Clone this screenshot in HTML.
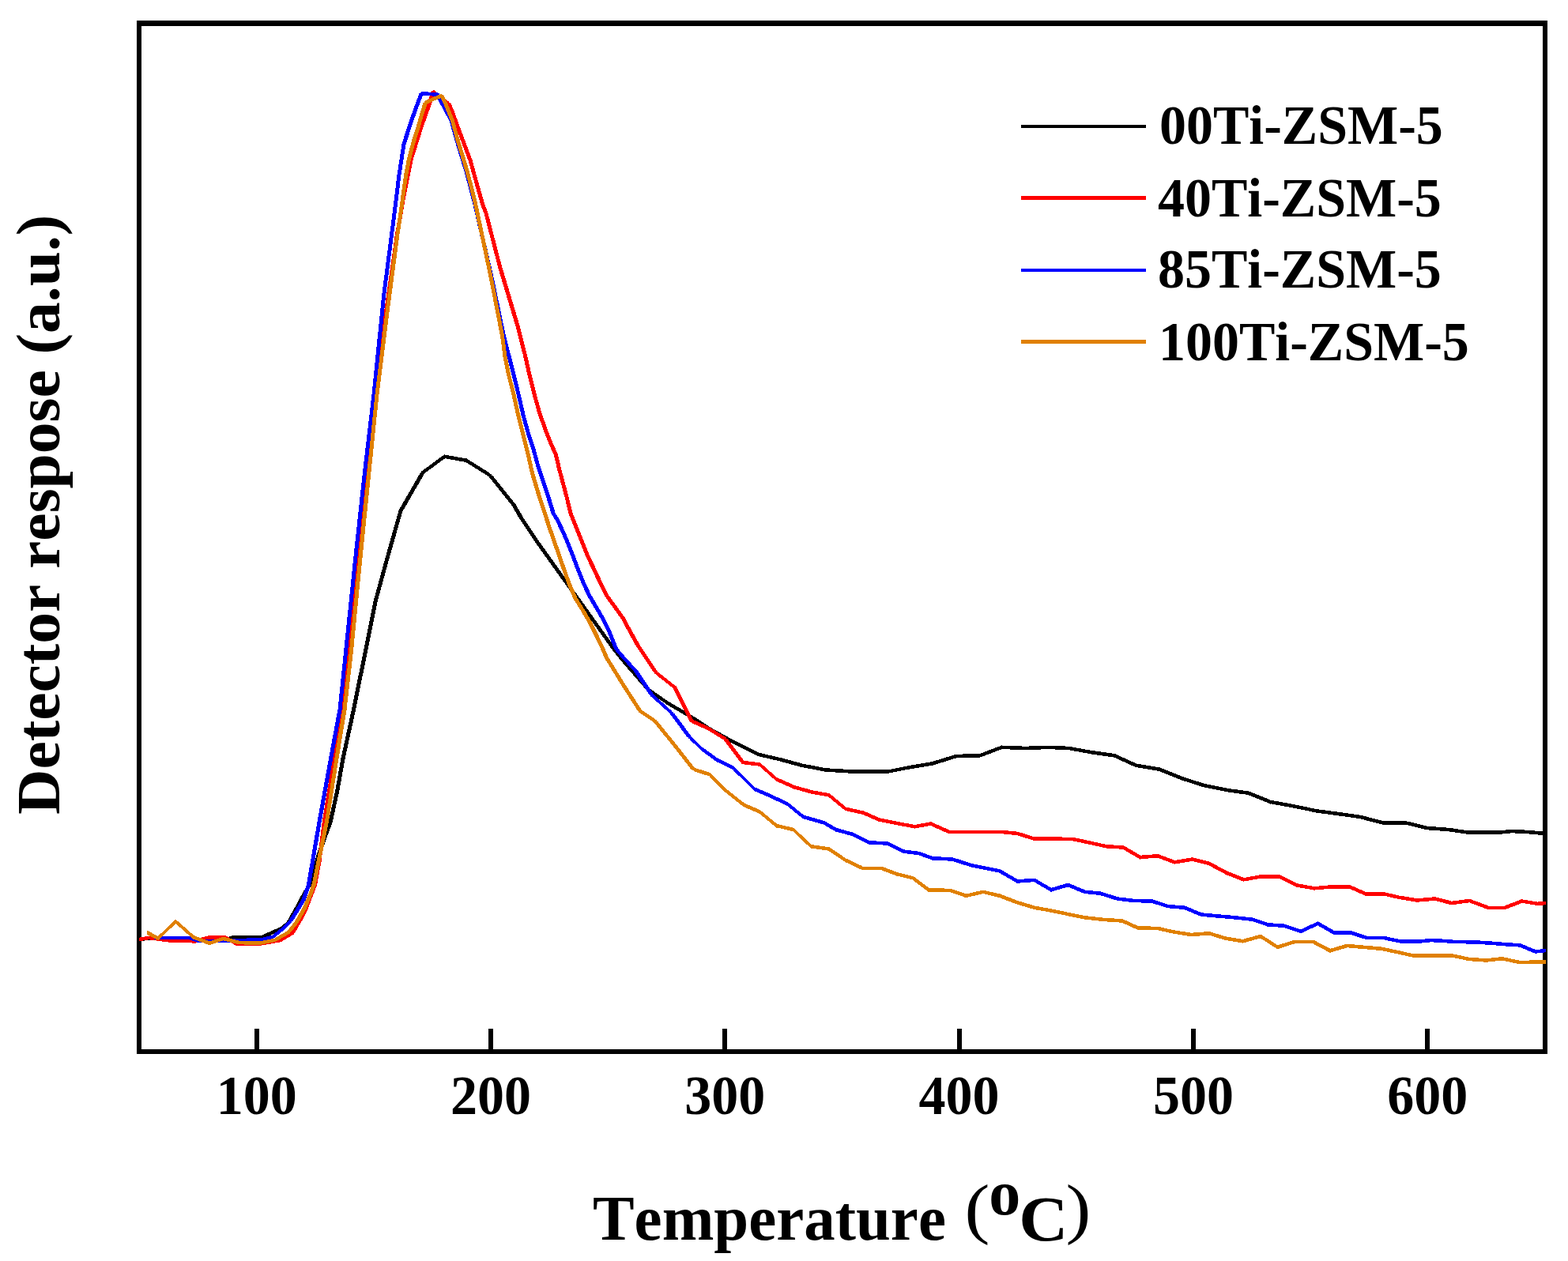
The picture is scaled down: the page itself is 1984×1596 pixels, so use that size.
<!DOCTYPE html>
<html lang="en"><head><meta charset="utf-8"><title>Temperature programmed desorption</title>
<style>
html,body{margin:0;padding:0;background:#fff;}
body{width:1984px;height:1596px;overflow:hidden;}
svg{display:block;}
text{font-family:"Liberation Serif","Times New Roman",serif;font-weight:bold;fill:#000;font-kerning:none;font-variant-ligatures:none;}
</style></head><body>
<svg width="1984" height="1596" viewBox="0 0 1984 1596">
<rect x="0" y="0" width="1984" height="1596" fill="#fff"/>
<g shape-rendering="crispEdges" fill="#000">
<rect x="173" y="26" width="6" height="1308"/>
<rect x="1952" y="26" width="6" height="1308"/>
<rect x="173" y="26" width="1785" height="7"/>
<rect x="173" y="1328" width="1785" height="6"/>
<rect x="322" y="1302" width="6" height="27"/>
<rect x="618" y="1302" width="6" height="27"/>
<rect x="914" y="1302" width="6" height="27"/>
<rect x="1211" y="1302" width="6" height="27"/>
<rect x="1507" y="1302" width="6" height="27"/>
<rect x="1803" y="1302" width="6" height="27"/>
</g>
<g stroke="none" shape-rendering="crispEdges">
<path fill="#000000" d="M176.5,1186.7L190.0,1185.0L190.0,1189.6L176.5,1191.3ZM190.0,1185.0L240.0,1185.2L240.0,1189.8L190.0,1189.6ZM240.0,1185.2L252.0,1188.2L252.0,1192.8L240.0,1189.8ZM252.0,1188.2L282.0,1187.7L282.0,1192.3L252.0,1192.8ZM282.0,1187.6L295.0,1184.1L295.0,1188.9L282.0,1192.4ZM295.0,1184.2L332.0,1183.7L332.0,1188.3L295.0,1188.8ZM332.0,1183.5L345.0,1177.5L345.0,1182.5L332.0,1188.5ZM345.0,1177.5L355.0,1173.1L355.0,1178.1L345.0,1182.5ZM355.0,1172.9L365.0,1165.3L365.0,1170.7L355.0,1178.3ZM362.1,1168.0L372.1,1150.0L377.9,1150.0L367.9,1168.0ZM372.2,1150.0L379.7,1136.0L385.3,1136.0L377.8,1150.0ZM379.6,1136.0L388.6,1120.0L394.4,1120.0L385.4,1136.0ZM388.8,1120.0L400.3,1083.0L405.7,1083.0L394.2,1120.0ZM400.3,1083.0L407.3,1062.0L412.7,1062.0L405.7,1083.0ZM407.3,1062.0L415.4,1040.6L420.8,1040.6L412.7,1062.0ZM415.5,1040.6L424.3,1000.0L429.5,1000.0L420.7,1040.6ZM424.3,1000.0L431.4,960.0L436.6,960.0L429.5,1000.0ZM431.4,960.0L444.9,898.0L450.1,898.0L436.6,960.0ZM444.9,898.0L459.9,824.0L465.1,824.0L450.1,898.0ZM459.9,824.0L472.4,761.5L477.6,761.5L465.1,824.0ZM472.4,761.5L487.4,706.5L492.6,706.5L477.6,761.5ZM487.4,706.5L504.4,646.5L509.6,646.5L492.6,706.5ZM504.1,646.5L532.1,598.0L537.9,598.0L509.9,646.5ZM535.0,595.3L562.5,575.1L562.5,580.5L535.0,600.7ZM562.5,575.5L590.0,580.5L590.0,585.1L562.5,580.1ZM590.0,580.2L620.0,598.9L620.0,604.1L590.0,585.4ZM623.0,601.5L653.0,639.0L647.0,639.0L617.0,601.5ZM652.9,639.0L662.9,656.3L657.1,656.3L647.1,639.0ZM662.9,656.3L682.2,685.2L676.4,685.2L657.1,656.3ZM682.2,685.2L703.7,715.3L697.9,715.3L676.4,685.2ZM703.7,715.3L723.4,742.8L717.6,742.8L697.9,715.3ZM723.4,742.8L731.5,754.1L725.7,754.1L717.6,742.8ZM731.5,754.1L747.6,776.7L741.8,776.7L725.7,754.1ZM747.6,776.7L762.8,798.0L757.0,798.0L741.8,776.7ZM762.8,798.0L778.6,820.0L772.8,820.0L757.0,798.0ZM778.7,820.0L790.5,835.0L784.5,835.0L772.7,820.0ZM790.5,835.0L823.0,872.5L817.0,872.5L784.5,835.0ZM820.0,869.9L845.0,887.4L845.0,892.6L820.0,875.1ZM845.0,887.4L875.0,904.9L875.0,910.1L845.0,892.6ZM875.0,904.9L900.0,921.2L900.0,926.4L875.0,910.1ZM900.0,921.2L925.0,934.9L925.0,940.1L900.0,926.4ZM925.0,935.0L960.0,952.5L960.0,957.5L925.0,940.0ZM960.0,952.7L987.5,959.0L987.5,963.6L960.0,957.3ZM987.5,958.9L1015.0,966.4L1015.0,971.2L987.5,963.7ZM1015.0,966.5L1045.0,972.2L1045.0,976.8L1015.0,971.1ZM1045.0,972.2L1075.0,974.0L1075.0,978.6L1045.0,976.8ZM1075.0,974.0L1125.0,974.0L1125.0,978.5L1075.0,978.5ZM1125.0,974.0L1150.0,969.0L1150.0,973.6L1125.0,978.6ZM1150.0,969.0L1180.0,964.0L1180.0,968.6L1150.0,973.6ZM1180.0,963.9L1210.0,954.6L1210.0,959.4L1180.0,968.7ZM1210.0,954.7L1240.0,954.0L1240.0,958.6L1210.0,959.3ZM1240.0,953.9L1267.5,943.4L1267.5,948.2L1240.0,958.7ZM1267.5,943.5L1297.5,944.7L1297.5,949.3L1267.5,948.1ZM1297.5,944.7L1326.3,943.5L1326.3,948.1L1297.5,949.3ZM1326.3,943.5L1352.5,944.7L1352.5,949.3L1326.3,948.1ZM1352.5,944.7L1380.0,949.7L1380.0,954.3L1352.5,949.3ZM1380.0,949.7L1410.0,954.0L1410.0,958.6L1380.0,954.3ZM1410.0,953.8L1437.5,966.3L1437.5,971.3L1410.0,958.8ZM1437.5,966.5L1467.5,971.5L1467.5,976.1L1437.5,971.1ZM1467.5,971.3L1495.0,982.5L1495.0,987.5L1467.5,976.3ZM1495.0,982.6L1522.5,991.4L1522.5,996.2L1495.0,987.4ZM1522.5,991.5L1552.5,997.7L1552.5,1002.3L1522.5,996.1ZM1552.5,997.7L1580.0,1001.5L1580.0,1006.1L1552.5,1002.3ZM1580.0,1001.3L1607.5,1012.5L1607.5,1017.5L1580.0,1006.3ZM1607.5,1012.7L1638.0,1018.2L1638.0,1022.8L1607.5,1017.3ZM1638.0,1018.2L1665.5,1024.0L1665.5,1028.6L1638.0,1022.8ZM1665.5,1024.0L1693.0,1027.7L1693.0,1032.3L1665.5,1028.6ZM1693.0,1027.7L1720.5,1031.5L1720.5,1036.1L1693.0,1032.3ZM1720.5,1031.4L1749.3,1038.9L1749.3,1043.7L1720.5,1036.2ZM1749.3,1039.0L1780.5,1039.5L1780.5,1044.1L1749.3,1043.6ZM1780.5,1039.5L1805.5,1045.7L1805.5,1050.3L1780.5,1044.1ZM1805.5,1045.7L1833.0,1047.7L1833.0,1052.3L1805.5,1050.3ZM1833.0,1047.7L1855.5,1051.0L1855.5,1055.6L1833.0,1052.3ZM1855.5,1051.0L1900.5,1051.0L1900.5,1055.5L1855.5,1055.5ZM1900.5,1051.0L1913.0,1049.7L1913.0,1054.3L1900.5,1055.6ZM1913.0,1049.7L1933.0,1050.7L1933.0,1055.3L1913.0,1054.3ZM1933.0,1050.7L1954.0,1052.7L1954.0,1057.3L1933.0,1055.3ZM363.2,1166.4L366.8,1166.4L366.8,1169.6L363.2,1169.6ZM533.2,596.4L536.8,596.4L536.8,599.6L533.2,599.6ZM618.2,599.9L621.8,599.9L621.8,603.1L618.2,603.1ZM818.2,870.9L821.8,870.9L821.8,874.1L818.2,874.1Z"/>
<path fill="#ff0000" d="M175.6,1186.7L188.8,1184.7L188.8,1189.3L175.6,1191.3ZM188.8,1184.7L215.0,1188.2L215.0,1192.8L188.8,1189.3ZM215.0,1188.2L247.0,1189.0L247.0,1193.6L215.0,1192.8ZM247.0,1188.9L264.0,1184.1L264.0,1188.9L247.0,1193.7ZM264.0,1184.2L285.0,1184.2L285.0,1188.8L264.0,1188.8ZM285.0,1183.9L300.0,1192.4L300.0,1197.6L285.0,1189.1ZM300.0,1192.8L327.0,1192.8L327.0,1197.2L300.0,1197.2ZM327.0,1192.7L355.0,1187.7L355.0,1192.3L327.0,1197.3ZM355.0,1187.4L370.0,1178.4L370.0,1183.6L355.0,1192.6ZM367.1,1181.0L377.1,1164.0L382.9,1164.0L372.9,1181.0ZM377.2,1164.0L384.2,1150.0L389.8,1150.0L382.8,1164.0ZM384.3,1150.0L395.8,1120.0L401.2,1120.0L389.7,1150.0ZM395.9,1120.0L401.4,1090.0L406.6,1090.0L401.1,1120.0ZM401.5,1090.0L407.7,1040.6L412.7,1040.6L406.5,1090.0ZM407.6,1040.6L420.7,960.0L425.9,960.0L412.8,1040.6ZM420.7,960.0L430.9,898.0L436.1,898.0L425.9,960.0ZM431.0,898.0L440.0,824.0L445.0,824.0L436.0,898.0ZM440.0,824.0L450.0,724.0L455.0,724.0L445.0,824.0ZM450.0,724.0L460.0,624.0L465.0,624.0L455.0,724.0ZM460.0,624.0L473.0,499.0L478.0,499.0L465.0,624.0ZM473.0,499.0L486.0,395.0L491.0,395.0L478.0,499.0ZM486.0,395.0L499.5,300.0L504.5,300.0L491.0,395.0ZM499.4,300.0L507.7,251.0L512.9,251.0L504.6,300.0ZM507.7,251.0L517.8,200.8L523.0,200.8L512.9,251.0ZM517.7,200.8L530.3,160.5L535.7,160.5L523.1,200.8ZM530.3,160.5L539.3,135.3L544.7,135.3L535.7,160.5ZM539.3,135.3L545.4,116.1L550.8,116.1L544.7,135.3ZM548.1,113.4L567.8,128.6L567.8,134.0L548.1,118.8ZM570.6,131.3L574.6,140.3L569.0,140.3L565.0,131.3ZM574.5,140.3L579.6,154.4L574.2,154.4L569.1,140.3ZM579.6,154.4L585.6,170.6L580.2,170.6L574.2,154.4ZM585.6,170.6L591.7,186.7L586.3,186.7L580.2,170.6ZM591.7,186.7L597.7,202.8L592.3,202.8L586.3,186.7ZM597.6,202.8L602.6,221.0L597.4,221.0L592.4,202.8ZM602.6,221.0L607.7,239.1L602.5,239.1L597.4,221.0ZM607.7,239.1L613.7,260.0L608.5,260.0L602.5,239.1ZM613.8,260.0L617.7,270.0L612.3,270.0L608.4,260.0ZM617.6,270.0L635.1,337.5L629.9,337.5L612.4,270.0ZM635.2,337.5L657.7,412.5L652.3,412.5L629.8,337.5ZM657.6,412.5L667.1,450.0L661.9,450.0L652.4,412.5ZM667.1,450.0L672.7,475.1L667.5,475.1L661.9,450.0ZM672.7,475.1L679.0,500.1L673.8,500.1L667.5,475.1ZM679.0,500.1L685.3,522.7L680.1,522.7L673.8,500.1ZM685.4,522.7L692.9,544.0L687.5,544.0L680.0,522.7ZM692.9,544.0L700.4,562.8L695.0,562.8L687.5,544.0ZM700.5,562.8L706.1,575.3L700.5,575.3L694.9,562.8ZM705.9,575.3L710.3,594.1L705.1,594.1L700.7,575.3ZM710.3,594.1L715.3,612.9L710.1,612.9L705.1,594.1ZM715.3,612.9L720.3,631.7L715.1,631.7L710.1,612.9ZM720.3,631.7L724.7,650.0L719.5,650.0L715.1,631.7ZM724.8,650.0L730.4,663.9L725.0,663.9L719.4,650.0ZM730.4,663.9L737.9,682.7L732.5,682.7L725.0,663.9ZM737.9,682.7L745.4,701.5L740.0,701.5L732.5,682.7ZM745.5,701.5L754.3,720.3L748.7,720.3L739.9,701.5ZM754.3,720.3L763.1,739.1L757.5,739.1L748.7,720.3ZM763.1,739.1L770.6,754.1L765.0,754.1L757.5,739.1ZM770.8,754.1L780.8,767.9L774.8,767.9L764.8,754.1ZM780.8,767.9L790.8,781.7L784.8,781.7L774.8,767.9ZM790.6,781.7L799.4,798.0L793.8,798.0L785.0,781.7ZM799.5,798.0L810.4,817.5L804.6,817.5L793.7,798.0ZM810.4,817.5L832.9,851.3L827.1,851.3L804.6,817.5ZM830.0,848.6L853.8,867.3L853.8,872.7L830.0,854.0ZM856.6,870.0L877.8,912.5L872.2,912.5L851.0,870.0ZM875.0,910.0L895.0,918.8L895.0,923.8L875.0,915.0ZM895.0,918.7L917.5,932.4L917.5,937.6L895.0,923.9ZM920.5,935.0L943.0,965.0L937.0,965.0L914.5,935.0ZM940.0,962.7L961.3,965.2L961.3,969.8L940.0,967.3ZM961.3,964.8L982.5,983.6L982.5,989.0L961.3,970.2ZM982.5,983.8L1005.0,993.8L1005.0,998.8L982.5,988.8ZM1005.0,993.9L1027.5,1000.1L1027.5,1004.9L1005.0,998.7ZM1027.5,1000.2L1048.8,1004.0L1048.8,1008.6L1027.5,1004.8ZM1048.8,1003.6L1070.0,1021.1L1070.0,1026.5L1048.8,1009.0ZM1070.0,1021.5L1092.5,1026.5L1092.5,1031.1L1070.0,1026.1ZM1092.5,1026.3L1112.5,1035.0L1112.5,1040.0L1092.5,1031.3ZM1112.5,1035.2L1135.0,1039.7L1135.0,1044.3L1112.5,1039.8ZM1135.0,1039.7L1157.5,1044.0L1157.5,1048.6L1135.0,1044.3ZM1157.5,1044.0L1177.5,1040.2L1177.5,1044.8L1157.5,1048.6ZM1177.5,1040.0L1201.3,1050.5L1201.3,1055.5L1177.5,1045.0ZM1201.3,1050.8L1267.5,1050.8L1267.5,1055.2L1201.3,1055.2ZM1267.5,1050.7L1287.5,1052.7L1287.5,1057.3L1267.5,1055.3ZM1287.5,1052.6L1307.5,1058.9L1307.5,1063.7L1287.5,1057.4ZM1307.5,1059.0L1357.5,1059.7L1357.5,1064.3L1307.5,1063.6ZM1357.5,1059.7L1377.5,1064.0L1377.5,1068.6L1357.5,1064.3ZM1377.5,1064.0L1400.0,1069.0L1400.0,1073.6L1377.5,1068.6ZM1400.0,1069.0L1421.3,1070.2L1421.3,1074.8L1400.0,1073.6ZM1421.3,1069.9L1442.5,1082.4L1442.5,1087.6L1421.3,1075.1ZM1442.5,1082.7L1465.0,1081.0L1465.0,1085.6L1442.5,1087.3ZM1465.0,1080.9L1486.3,1088.9L1486.3,1093.7L1465.0,1085.7ZM1486.3,1089.0L1508.8,1085.2L1508.8,1089.8L1486.3,1093.6ZM1508.8,1085.1L1530.0,1090.6L1530.0,1095.4L1508.8,1089.9ZM1530.0,1090.4L1552.5,1102.4L1552.5,1107.6L1530.0,1095.6ZM1552.5,1102.5L1573.8,1110.8L1573.8,1115.8L1552.5,1107.5ZM1573.8,1111.0L1595.0,1107.2L1595.0,1111.8L1573.8,1115.6ZM1595.0,1107.2L1618.8,1107.2L1618.8,1111.8L1595.0,1111.8ZM1618.8,1107.0L1641.0,1118.0L1641.0,1123.0L1618.8,1112.0ZM1641.0,1118.2L1663.0,1122.0L1663.0,1126.6L1641.0,1122.8ZM1663.0,1122.0L1683.0,1120.2L1683.0,1124.8L1663.0,1126.6ZM1683.0,1120.2L1708.0,1120.2L1708.0,1124.8L1683.0,1124.8ZM1708.0,1120.0L1728.0,1128.8L1728.0,1133.8L1708.0,1125.0ZM1728.0,1129.0L1750.5,1129.0L1750.5,1133.5L1728.0,1133.5ZM1750.5,1129.0L1770.5,1133.5L1770.5,1138.1L1750.5,1133.6ZM1770.5,1133.5L1793.0,1137.2L1793.0,1141.8L1770.5,1138.1ZM1793.0,1137.2L1815.5,1135.2L1815.5,1139.8L1793.0,1141.8ZM1815.5,1135.1L1836.8,1140.6L1836.8,1145.4L1815.5,1139.9ZM1836.8,1140.7L1859.3,1137.7L1859.3,1142.3L1836.8,1145.3ZM1859.3,1137.6L1883.0,1146.4L1883.0,1151.2L1859.3,1142.4ZM1883.0,1146.5L1904.3,1146.5L1904.3,1151.0L1883.0,1151.0ZM1904.3,1146.3L1925.5,1138.0L1925.5,1143.0L1904.3,1151.3ZM1925.5,1138.2L1945.5,1141.5L1945.5,1146.1L1925.5,1142.8ZM1945.5,1141.5L1955.5,1140.7L1955.5,1145.3L1945.5,1146.1ZM368.2,1179.4L371.8,1179.4L371.8,1182.6L368.2,1182.6ZM546.4,114.5L549.9,114.5L549.9,117.7L546.4,117.7ZM566.0,129.7L569.5,129.7L569.5,132.9L566.0,132.9ZM828.2,849.7L831.8,849.7L831.8,852.9L828.2,852.9ZM852.0,868.4L855.5,868.4L855.5,871.6L852.0,871.6ZM873.2,910.9L876.8,910.9L876.8,914.1L873.2,914.1ZM915.8,933.4L919.2,933.4L919.2,936.6L915.8,936.6ZM938.2,963.4L941.8,963.4L941.8,966.6L938.2,966.6Z"/>
<path fill="#0000ff" d="M195.0,1184.8L240.0,1184.8L240.0,1189.2L195.0,1189.2ZM240.0,1184.6L252.0,1188.6L252.0,1193.4L240.0,1189.4ZM252.0,1188.8L282.0,1188.8L282.0,1193.2L252.0,1193.2ZM282.0,1188.7L307.0,1187.7L307.0,1192.3L282.0,1193.3ZM307.0,1187.7L332.0,1186.7L332.0,1191.3L307.0,1192.3ZM332.0,1186.7L345.0,1183.7L345.0,1188.3L332.0,1191.3ZM345.0,1183.3L357.5,1173.3L357.5,1178.7L345.0,1188.7ZM357.5,1173.3L367.5,1163.3L367.5,1168.7L357.5,1178.7ZM364.6,1166.0L373.1,1152.5L378.9,1152.5L370.4,1166.0ZM373.1,1152.5L381.1,1139.0L386.9,1139.0L378.9,1152.5ZM381.3,1139.0L387.7,1120.0L393.1,1120.0L386.7,1139.0ZM387.8,1120.0L401.4,1040.6L406.6,1040.6L393.0,1120.0ZM401.4,1040.6L416.0,960.0L421.2,960.0L406.6,1040.6ZM416.0,960.0L427.4,898.0L432.6,898.0L421.2,960.0ZM427.5,898.0L437.7,799.0L442.7,799.0L432.5,898.0ZM437.7,799.0L448.0,699.0L453.0,699.0L442.7,799.0ZM448.0,699.0L458.8,599.0L463.8,599.0L453.0,699.0ZM458.8,599.0L470.5,499.0L475.5,499.0L463.8,599.0ZM470.5,499.0L483.0,375.0L488.0,375.0L475.5,499.0ZM483.0,375.0L497.8,260.0L502.8,260.0L488.0,375.0ZM497.8,260.0L502.5,221.0L507.5,221.0L502.8,260.0ZM502.5,221.0L508.5,182.7L513.5,182.7L507.5,221.0ZM508.3,182.7L515.3,160.5L520.7,160.5L513.7,182.7ZM515.3,160.5L522.3,140.3L527.7,140.3L520.7,160.5ZM522.3,140.3L528.3,124.2L533.7,124.2L527.7,140.3ZM528.3,124.2L530.6,118.1L536.0,118.1L533.7,124.2ZM533.3,115.8L553.7,117.4L553.7,122.0L533.3,120.4ZM556.5,119.7L561.3,129.2L555.7,129.2L550.9,119.7ZM561.3,129.2L573.8,152.4L568.2,152.4L555.7,129.2ZM573.6,152.4L580.1,175.6L574.9,175.6L568.4,152.4ZM580.2,175.6L586.3,195.8L580.9,195.8L574.8,175.6ZM586.3,195.8L592.4,215.9L587.0,215.9L580.9,195.8ZM592.3,215.9L598.5,239.1L593.3,239.1L587.1,215.9ZM598.5,239.1L603.9,260.0L598.7,260.0L593.3,239.1ZM603.9,260.0L624.4,350.0L619.2,350.0L598.7,260.0ZM624.4,350.0L639.9,425.0L634.7,425.0L619.2,350.0ZM639.9,425.0L646.4,450.0L641.2,450.0L634.7,425.0ZM646.4,450.0L652.7,475.1L647.5,475.1L641.2,450.0ZM652.7,475.1L658.9,500.1L653.7,500.1L647.5,475.1ZM658.9,500.1L664.6,525.2L659.4,525.2L653.7,500.1ZM664.6,525.2L671.5,550.3L666.3,550.3L659.4,525.2ZM671.6,550.3L677.8,569.0L672.4,569.0L666.2,550.3ZM677.7,569.0L682.8,587.8L677.6,587.8L672.5,569.0ZM682.9,587.8L689.1,606.6L683.7,606.6L677.5,587.8ZM689.1,606.6L695.4,625.4L690.0,625.4L683.7,606.6ZM695.4,625.4L702.9,650.0L697.5,650.0L690.0,625.4ZM703.1,650.0L708.0,657.6L702.2,657.6L697.3,650.0ZM707.9,657.6L716.7,676.4L711.1,676.4L702.3,657.6ZM716.6,676.4L725.4,697.7L720.0,697.7L711.2,676.4ZM725.4,697.7L732.9,717.8L727.5,717.8L720.0,697.7ZM732.9,717.8L740.4,736.6L735.0,736.6L727.5,717.8ZM740.5,736.6L748.0,752.9L742.4,752.9L734.9,736.6ZM748.1,752.9L756.9,767.9L751.1,767.9L742.3,752.9ZM756.9,767.9L765.7,783.0L759.9,783.0L751.1,767.9ZM765.6,783.0L773.1,798.0L767.5,798.0L760.0,783.0ZM773.0,798.0L781.8,820.0L776.4,820.0L767.6,798.0ZM782.0,820.0L785.4,825.0L779.6,825.0L776.2,820.0ZM785.5,825.0L808.0,850.0L802.0,850.0L779.5,825.0ZM807.9,850.0L827.9,880.0L822.1,880.0L802.1,850.0ZM825.0,877.3L850.0,899.8L850.0,905.2L825.0,882.7ZM853.0,902.5L875.5,933.0L869.5,933.0L847.0,902.5ZM872.5,930.3L887.5,944.8L887.5,950.2L872.5,935.7ZM887.5,944.8L907.5,959.3L907.5,964.7L887.5,950.2ZM907.5,959.5L927.5,969.5L927.5,974.5L907.5,964.5ZM927.5,969.3L955.0,996.1L955.0,1001.5L927.5,974.7ZM955.0,996.3L975.0,1005.0L975.0,1010.0L955.0,1001.3ZM975.0,1005.0L996.3,1015.0L996.3,1020.0L975.0,1010.0ZM996.3,1014.8L1016.3,1031.1L1016.3,1036.5L996.3,1020.2ZM1016.3,1031.4L1042.5,1038.9L1042.5,1043.7L1016.3,1036.2ZM1042.5,1038.7L1057.5,1047.4L1057.5,1052.6L1042.5,1043.9ZM1057.5,1047.6L1080.0,1053.9L1080.0,1058.7L1057.5,1052.4ZM1080.0,1053.8L1100.0,1063.8L1100.0,1068.8L1080.0,1058.8ZM1100.0,1064.0L1122.5,1065.2L1122.5,1069.8L1100.0,1068.6ZM1122.5,1065.0L1142.5,1075.0L1142.5,1080.0L1122.5,1070.0ZM1142.5,1075.2L1162.5,1077.7L1162.5,1082.3L1142.5,1079.8ZM1162.5,1077.6L1180.0,1083.9L1180.0,1088.7L1162.5,1082.4ZM1180.0,1084.0L1205.0,1085.2L1205.0,1089.8L1180.0,1088.6ZM1205.0,1085.1L1230.0,1093.1L1230.0,1097.9L1205.0,1089.9ZM1230.0,1093.2L1265.0,1100.2L1265.0,1104.8L1230.0,1097.8ZM1265.0,1099.9L1287.5,1112.9L1287.5,1118.1L1265.0,1105.1ZM1287.5,1113.2L1308.8,1111.5L1308.8,1116.1L1287.5,1117.8ZM1308.8,1111.2L1330.0,1123.7L1330.0,1128.9L1308.8,1116.4ZM1330.0,1123.9L1351.3,1117.6L1351.3,1122.4L1330.0,1128.7ZM1351.3,1117.5L1372.5,1126.3L1372.5,1131.3L1351.3,1122.5ZM1372.5,1126.5L1392.5,1128.5L1392.5,1133.1L1372.5,1131.1ZM1392.5,1128.4L1413.8,1135.1L1413.8,1139.9L1392.5,1133.2ZM1413.8,1135.2L1435.0,1137.7L1435.0,1142.3L1413.8,1139.8ZM1435.0,1137.7L1457.5,1138.2L1457.5,1142.8L1435.0,1142.3ZM1457.5,1138.1L1477.5,1144.6L1477.5,1149.4L1457.5,1142.9ZM1477.5,1144.7L1498.8,1146.5L1498.8,1151.1L1477.5,1149.3ZM1498.8,1146.3L1520.0,1155.0L1520.0,1160.0L1498.8,1151.3ZM1520.0,1155.2L1541.3,1157.2L1541.3,1161.8L1520.0,1159.8ZM1541.3,1157.2L1562.5,1159.0L1562.5,1163.6L1541.3,1161.8ZM1562.5,1159.0L1585.0,1161.5L1585.0,1166.1L1562.5,1163.6ZM1585.0,1161.4L1604.0,1167.9L1604.0,1172.7L1585.0,1166.2ZM1604.0,1168.0L1625.0,1169.5L1625.0,1174.1L1604.0,1172.6ZM1625.0,1169.4L1646.0,1176.4L1646.0,1181.2L1625.0,1174.2ZM1646.0,1176.3L1667.5,1166.3L1667.5,1171.3L1646.0,1181.3ZM1667.5,1166.2L1688.0,1177.9L1688.0,1183.1L1667.5,1171.4ZM1688.0,1178.2L1709.3,1178.2L1709.3,1182.8L1688.0,1182.8ZM1709.3,1178.1L1729.3,1184.6L1729.3,1189.4L1709.3,1182.9ZM1729.3,1184.8L1750.5,1184.8L1750.5,1189.2L1729.3,1189.2ZM1750.5,1184.7L1771.8,1189.0L1771.8,1193.6L1750.5,1189.3ZM1771.8,1189.0L1798.0,1189.0L1798.0,1193.5L1771.8,1193.5ZM1798.0,1189.0L1810.5,1187.7L1810.5,1192.3L1798.0,1193.6ZM1810.5,1187.7L1825.5,1188.5L1825.5,1193.1L1810.5,1192.3ZM1825.5,1188.5L1838.0,1189.5L1838.0,1194.1L1825.5,1193.1ZM1838.0,1189.5L1868.0,1190.2L1868.0,1194.8L1838.0,1194.1ZM1868.0,1190.2L1888.0,1191.5L1888.0,1196.1L1868.0,1194.8ZM1888.0,1191.5L1908.0,1193.2L1908.0,1197.8L1888.0,1196.1ZM1908.0,1193.2L1923.0,1194.0L1923.0,1198.6L1908.0,1197.8ZM1923.0,1193.8L1943.0,1202.0L1943.0,1207.0L1923.0,1198.8ZM1943.0,1202.2L1955.5,1200.7L1955.5,1205.3L1943.0,1206.8ZM365.8,1164.4L369.2,1164.4L369.2,1167.6L365.8,1167.6ZM531.5,116.5L535.0,116.5L535.0,119.7L531.5,119.7ZM552.0,118.1L555.5,118.1L555.5,121.3L552.0,121.3ZM823.2,878.4L826.8,878.4L826.8,881.6L823.2,881.6ZM848.2,900.9L851.8,900.9L851.8,904.1L848.2,904.1ZM870.8,931.4L874.2,931.4L874.2,934.6L870.8,934.6Z"/>
<path fill="#e08000" d="M185.6,1177.4L200.0,1184.9L200.0,1190.1L185.6,1182.6ZM200.0,1184.8L222.3,1163.6L222.3,1169.0L200.0,1190.2ZM222.3,1163.6L245.0,1183.6L245.0,1189.0L222.3,1169.0ZM245.0,1183.9L265.0,1191.4L265.0,1196.2L245.0,1188.7ZM265.0,1191.4L282.5,1185.6L282.5,1190.4L265.0,1196.2ZM282.5,1185.7L302.5,1190.7L302.5,1195.3L282.5,1190.3ZM302.5,1190.7L327.5,1191.5L327.5,1196.1L302.5,1195.3ZM327.5,1191.5L347.5,1187.7L347.5,1192.3L327.5,1196.1ZM347.5,1187.4L365.0,1177.4L365.0,1182.6L347.5,1192.6ZM362.0,1180.0L372.0,1167.5L378.0,1167.5L368.0,1180.0ZM372.1,1167.5L382.1,1150.0L387.9,1150.0L377.9,1167.5ZM382.2,1150.0L389.7,1132.5L395.3,1132.5L387.8,1150.0ZM389.8,1132.5L394.3,1120.0L399.7,1120.0L395.2,1132.5ZM394.4,1120.0L410.7,1040.6L415.9,1040.6L399.6,1120.0ZM410.8,1040.6L423.4,960.0L428.4,960.0L415.8,1040.6ZM423.3,960.0L433.4,898.0L438.6,898.0L428.5,960.0ZM433.5,898.0L442.0,824.0L447.0,824.0L438.5,898.0ZM442.0,824.0L451.7,724.0L456.7,724.0L447.0,824.0ZM451.7,724.0L461.8,624.0L466.8,624.0L456.7,724.0ZM461.8,624.0L474.5,499.0L479.5,499.0L466.8,624.0ZM474.5,499.0L487.5,395.0L492.5,395.0L479.5,499.0ZM487.5,395.0L500.0,300.0L505.0,300.0L492.5,395.0ZM500.0,300.0L505.8,260.0L510.8,260.0L505.0,300.0ZM505.8,260.0L508.3,241.1L513.3,241.1L510.8,260.0ZM508.3,241.1L511.3,221.0L516.3,221.0L513.3,241.1ZM511.2,221.0L515.0,200.8L520.2,200.8L516.4,221.0ZM515.0,200.8L520.3,180.6L525.5,180.6L520.2,200.8ZM520.2,180.6L526.5,160.5L531.9,160.5L525.6,180.6ZM526.6,160.5L529.4,150.4L534.6,150.4L531.8,160.5ZM529.4,150.4L532.4,140.3L537.6,140.3L534.6,150.4ZM532.3,140.3L535.6,130.0L541.0,130.0L537.7,140.3ZM538.3,127.5L548.6,122.7L548.6,127.7L538.3,132.5ZM548.6,122.7L558.7,118.7L558.7,123.7L548.6,127.7ZM561.5,121.2L566.3,130.2L560.7,130.2L555.9,121.2ZM566.2,130.2L575.0,152.4L569.6,152.4L560.8,130.2ZM574.9,152.4L581.2,175.6L576.0,175.6L569.7,152.4ZM581.3,175.6L587.4,195.8L582.0,195.8L575.9,175.6ZM587.4,195.8L593.5,215.9L588.1,215.9L582.0,195.8ZM593.4,215.9L599.6,239.1L594.4,239.1L588.2,215.9ZM599.6,239.1L604.6,260.0L599.4,260.0L594.4,239.1ZM604.6,260.0L623.6,350.0L618.4,350.0L599.4,260.0ZM623.6,350.0L638.1,425.0L632.9,425.0L618.4,350.0ZM638.0,425.0L641.3,450.0L636.3,450.0L633.0,425.0ZM641.4,450.0L646.4,475.1L641.2,475.1L636.2,450.0ZM646.4,475.1L652.7,500.1L647.5,500.1L641.2,475.1ZM652.7,500.1L658.3,525.2L653.1,525.2L647.5,500.1ZM658.3,525.2L664.6,550.3L659.4,550.3L653.1,525.2ZM664.6,550.3L670.8,575.3L665.6,575.3L659.4,550.3ZM670.8,575.3L676.5,600.4L671.3,600.4L665.6,575.3ZM676.6,600.4L684.1,625.4L678.7,625.4L671.2,600.4ZM684.1,625.4L692.2,650.0L686.8,650.0L678.7,625.4ZM692.2,650.0L697.8,667.6L692.4,667.6L686.8,650.0ZM697.8,667.6L706.6,692.7L701.2,692.7L692.4,667.6ZM706.6,692.7L715.3,717.8L709.9,717.8L701.2,692.7ZM715.3,717.8L722.9,739.1L717.5,739.1L709.9,717.8ZM723.0,739.1L731.1,757.9L725.5,757.9L717.4,739.1ZM731.2,757.9L740.6,772.9L734.8,772.9L725.4,757.9ZM740.6,772.9L749.4,788.0L743.6,788.0L734.8,772.9ZM749.3,788.0L756.8,803.0L751.2,803.0L743.7,788.0ZM756.8,803.0L764.9,820.0L759.3,820.0L751.2,803.0ZM764.9,820.0L770.3,832.5L764.7,832.5L759.3,820.0ZM770.4,832.5L790.4,865.0L784.6,865.0L764.6,832.5ZM790.4,865.0L812.9,900.0L807.1,900.0L784.6,865.0ZM810.0,897.4L828.8,909.9L828.8,915.1L810.0,902.6ZM831.8,912.5L858.0,945.0L852.0,945.0L825.8,912.5ZM858.0,945.0L880.5,973.8L874.5,973.8L852.0,945.0ZM877.5,971.4L897.5,977.6L897.5,982.4L877.5,976.2ZM897.5,977.3L917.5,997.3L917.5,1002.7L897.5,982.7ZM917.5,997.3L941.3,1016.1L941.3,1021.5L917.5,1002.7ZM941.3,1016.3L961.3,1025.0L961.3,1030.0L941.3,1021.3ZM961.3,1024.8L982.5,1042.3L982.5,1047.7L961.3,1030.2ZM982.5,1042.7L1003.8,1047.7L1003.8,1052.3L982.5,1047.3ZM1003.8,1047.3L1026.3,1068.6L1026.3,1074.0L1003.8,1052.7ZM1026.3,1069.0L1048.8,1072.2L1048.8,1076.8L1026.3,1073.6ZM1048.8,1071.9L1070.0,1086.2L1070.0,1091.4L1048.8,1077.1ZM1070.0,1086.3L1091.3,1096.3L1091.3,1101.3L1070.0,1091.3ZM1091.3,1096.5L1115.0,1096.5L1115.0,1101.0L1091.3,1101.0ZM1115.0,1096.4L1135.0,1103.9L1135.0,1108.7L1115.0,1101.2ZM1135.0,1104.0L1155.0,1109.0L1155.0,1113.6L1135.0,1108.6ZM1155.0,1108.6L1175.0,1123.6L1175.0,1129.0L1155.0,1114.0ZM1175.0,1124.0L1202.5,1124.7L1202.5,1129.3L1175.0,1128.6ZM1202.5,1124.6L1222.5,1131.4L1222.5,1136.2L1202.5,1129.4ZM1222.5,1131.5L1243.8,1126.5L1243.8,1131.1L1222.5,1136.1ZM1243.8,1126.5L1265.0,1131.5L1265.0,1136.1L1243.8,1131.1ZM1265.0,1131.3L1286.3,1139.5L1286.3,1144.5L1265.0,1136.3ZM1286.3,1139.6L1308.8,1146.4L1308.8,1151.2L1286.3,1144.4ZM1308.8,1146.5L1330.0,1150.2L1330.0,1154.8L1308.8,1151.1ZM1330.0,1150.2L1351.3,1154.7L1351.3,1159.3L1330.0,1154.8ZM1351.3,1154.7L1372.5,1159.0L1372.5,1163.6L1351.3,1159.3ZM1372.5,1159.0L1395.0,1161.5L1395.0,1166.1L1372.5,1163.6ZM1395.0,1161.5L1420.0,1163.2L1420.0,1167.8L1395.0,1166.1ZM1420.0,1163.0L1440.0,1172.0L1440.0,1177.0L1420.0,1168.0ZM1440.0,1172.2L1465.0,1172.7L1465.0,1177.3L1440.0,1176.8ZM1465.0,1172.7L1485.0,1177.2L1485.0,1181.8L1465.0,1177.3ZM1485.0,1177.2L1507.5,1180.7L1507.5,1185.3L1485.0,1181.8ZM1507.5,1180.7L1530.0,1179.0L1530.0,1183.6L1507.5,1185.3ZM1530.0,1178.9L1550.0,1185.1L1550.0,1189.9L1530.0,1183.7ZM1550.0,1185.2L1572.5,1189.0L1572.5,1193.6L1550.0,1189.8ZM1572.5,1188.9L1595.0,1182.6L1595.0,1187.4L1572.5,1193.7ZM1595.0,1182.4L1616.5,1196.2L1616.5,1201.4L1595.0,1187.6ZM1616.5,1196.4L1638.0,1189.6L1638.0,1194.4L1616.5,1201.2ZM1638.0,1189.8L1661.5,1189.8L1661.5,1194.2L1638.0,1194.2ZM1661.5,1189.4L1683.0,1200.7L1683.0,1205.9L1661.5,1194.6ZM1683.0,1200.9L1704.3,1194.6L1704.3,1199.4L1683.0,1205.7ZM1704.3,1194.7L1725.5,1196.5L1725.5,1201.1L1704.3,1199.3ZM1725.5,1196.5L1748.0,1198.5L1748.0,1203.1L1725.5,1201.1ZM1748.0,1198.5L1768.0,1202.7L1768.0,1207.3L1748.0,1203.1ZM1768.0,1202.7L1788.0,1207.2L1788.0,1211.8L1768.0,1207.3ZM1788.0,1207.2L1838.0,1207.2L1838.0,1211.8L1788.0,1211.8ZM1838.0,1207.2L1858.0,1211.5L1858.0,1216.1L1838.0,1211.8ZM1858.0,1211.5L1880.5,1213.2L1880.5,1217.8L1858.0,1216.1ZM1880.5,1213.2L1900.5,1211.0L1900.5,1215.6L1880.5,1217.8ZM1900.5,1211.0L1923.0,1215.7L1923.0,1220.3L1900.5,1215.6ZM1923.0,1215.7L1955.5,1215.2L1955.5,1219.8L1923.0,1220.3ZM363.2,1178.4L366.8,1178.4L366.8,1181.6L363.2,1181.6ZM536.5,128.4L540.0,128.4L540.0,131.6L536.5,131.6ZM557.0,119.6L560.5,119.6L560.5,122.8L557.0,122.8ZM808.2,898.4L811.8,898.4L811.8,901.6L808.2,901.6ZM827.0,910.9L830.5,910.9L830.5,914.1L827.0,914.1ZM875.8,972.2L879.2,972.2L879.2,975.4L875.8,975.4Z"/>
<rect x="1292" y="158" width="158" height="4" fill="#000000" stroke="none"/>
<rect x="1292" y="248" width="158" height="5" fill="#ff0000" stroke="none"/>
<rect x="1292" y="340" width="158" height="4" fill="#0000ff" stroke="none"/>
<rect x="1292" y="430" width="158" height="5" fill="#e08000" stroke="none"/>
</g>
<text transform="translate(1467,182.3) scale(0.98,1)" font-size="69.4">00Ti-ZSM-5</text>
<text transform="translate(1465,273.5) scale(0.98,1)" font-size="69.4">40Ti-ZSM-5</text>
<text transform="translate(1465,364.2) scale(0.98,1)" font-size="69.4">85Ti-ZSM-5</text>
<text transform="translate(1466,456) scale(0.98,1)" font-size="69.4">100Ti-ZSM-5</text>
<text transform="translate(324.7,1409.8) scale(0.98,1)" font-size="69.4" text-anchor="middle">100</text>
<text transform="translate(621.0,1409.8) scale(0.98,1)" font-size="69.4" text-anchor="middle">200</text>
<text transform="translate(917.3,1409.8) scale(0.98,1)" font-size="69.4" text-anchor="middle">300</text>
<text transform="translate(1213.6,1409.8) scale(0.98,1)" font-size="69.4" text-anchor="middle">400</text>
<text transform="translate(1509.9,1409.8) scale(0.98,1)" font-size="69.4" text-anchor="middle">500</text>
<text transform="translate(1806.2,1409.8) scale(0.98,1)" font-size="69.4" text-anchor="middle">600</text>
<text font-size="80"><tspan font-size="80.6" x="750" y="1569.4" textLength="446.9" lengthAdjust="spacingAndGlyphs">Temperature</tspan><tspan font-size="40"> </tspan><tspan font-size="85.3" font-weight="normal" x="1220.5" y="1557.9" textLength="31.9" lengthAdjust="spacingAndGlyphs">(</tspan><tspan x="1251.3" y="1536.8">o</tspan><tspan x="1289.3" y="1569.8" textLength="62.1" lengthAdjust="spacingAndGlyphs">C</tspan><tspan font-size="85.3" font-weight="normal" x="1348.5" y="1557.9" textLength="31.9" lengthAdjust="spacingAndGlyphs">)</tspan></text>
<text transform="translate(75.2,1031) rotate(-90) scale(1,0.975)" font-size="79.5">Detector respose (a.u.)</text>
</svg></body></html>
